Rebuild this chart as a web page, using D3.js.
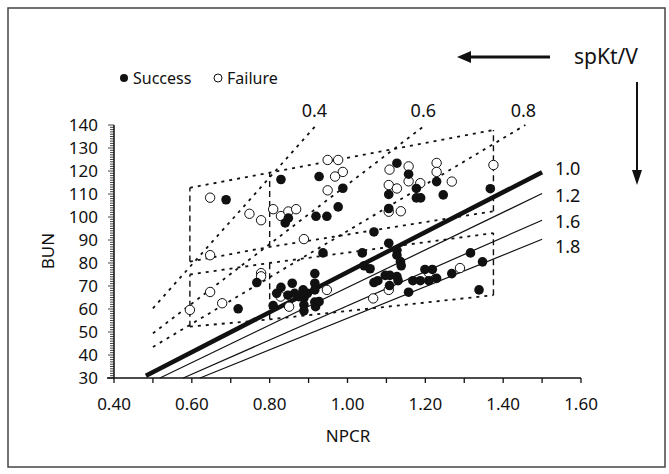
<!DOCTYPE html>
<html>
<head>
<meta charset="utf-8">
<script src="https://cdn.jsdelivr.net/npm/d3@7"></script>
<style>
  body { margin: 0; background: #fff; }
  svg text { font-family: "Noto Sans", "DejaVu Sans", sans-serif; fill: #111; }
</style>
</head>
<body>
<svg id="chart" width="669" height="474"></svg>
<script>
// --- data ---
const xTickValues = [0.4, 0.6, 0.8, 1.0, 1.2, 1.4, 1.6];
const yTickValues = [30, 40, 50, 60, 70, 80, 90, 100, 110, 120, 130, 140];

const successPts = [
  [0.688,107.5],[0.829,116.3],[0.927,117.6],[0.840,97.4],[0.848,99.5],[0.919,100.3],[0.947,100.3],
  [0.976,104.4],[0.988,112.5],[1.068,93.5],[1.106,109.8],[1.106,103.7],[1.127,123.4],[1.157,118.6],
  [1.177,112.4],[1.177,108.3],[1.188,108.3],[1.229,115.4],[1.246,109.6],[1.367,112.3],
  [0.719,60.1],[0.767,71.5],[0.809,61.5],[0.818,66.8],[0.829,69.4],[0.847,66.0],[0.858,71.2],
  [0.864,66.8],[0.875,65.4],[0.886,68.3],[0.888,64.8],[0.888,61.8],[0.888,59.2],[0.897,66.8],
  [0.916,75.4],[0.916,71.2],[0.916,68.3],[0.916,63.0],[0.918,61.0],[0.927,63.2],[0.937,84.4],
  [1.038,84.4],[1.043,78.8],[1.058,77.5],[1.068,71.5],[1.078,72.3],[1.097,74.6],[1.106,88.6],
  [1.108,70.2],[1.109,74.6],[1.127,85.5],[1.127,83.4],[1.127,74.1],[1.130,72.3],[1.136,80.6],
  [1.138,78.8],[1.157,67.3],[1.168,72.3],[1.187,72.3],[1.199,77.2],[1.209,72.3],[1.218,77.2],
  [1.229,73.3],[1.268,75.4],[1.316,84.4],[1.338,68.3],[1.347,80.5]
];
const failurePts = [
  [0.647,108.4],[0.748,101.4],[0.778,98.6],[0.809,103.4],[0.829,100.4],[0.848,102.4],[0.868,103.4],
  [0.888,90.4],[0.949,124.8],[0.976,124.8],[0.988,119.6],[0.968,117.6],[0.949,111.6],[1.108,120.6],
  [1.106,113.9],[1.106,102.3],[1.127,112.4],[1.137,102.5],[1.157,122.0],[1.157,115.5],[1.187,114.7],
  [1.229,123.5],[1.229,119.6],[1.268,115.4],[1.375,122.6],
  [0.595,59.6],[0.647,83.4],[0.647,67.4],[0.678,62.5],[0.778,75.6],[0.778,74.2],[0.828,65.4],
  [0.850,61.0],[0.947,68.3],[1.066,64.6],[1.106,68.3],[1.209,75.8],[1.289,77.8]
];

// solid spKt/V lines (NPCR, BUN) start and end
const ktvLabels = ["1.0", "1.2", "1.6", "1.8"];
const ktvStart = [[0.482, 31], [0.518, 30], [0.578, 30], [0.621, 30]];
const ktvEnd = [[1.50, 119.5], [1.50, 110.2], [1.50, 98.6], [1.50, 90.3]];

// dotted spKt/V guides
const guideLabels = ["0.4", "0.6", "0.8"];
const guideLines = [
  [[0.50, 60.3], [0.92, 140]],
  [[0.50, 49.4], [1.20, 140]],
  [[0.50, 43.5], [1.457, 140]]
];
// dotted box edges (through NPCR 0.595, 0.80, 1.375)
const boxEdges = [
  [[0.595, 112.7], [0.80, 119.3], [1.375, 137.8]],
  [[0.595, 80.6], [0.80, 87.0], [1.375, 102.5]],
  [[0.595, 75.0], [0.80, 80.0], [1.375, 93.0]],
  [[0.595, 52.3], [0.80, 55.5], [1.375, 66.0]]
];
// dashed box sides
const boxSides = [
  [0.595, 80.6, 112.7], [0.80, 87.0, 119.3], [1.375, 102.5, 137.8],
  [0.595, 52.3, 75.0], [0.80, 55.5, 80.0], [1.375, 66.0, 93.0]
];

document.addEventListener("DOMContentLoaded", () => {
    const svg = d3.select("#chart");

    // frame
    svg.append("rect")
        .attr("x", 8).attr("y", 8)
        .attr("width", 657).attr("height", 459)
        .attr("fill", "none")
        .attr("stroke", "#444")
        .attr("stroke-width", 1.5);

    const xScale = d3.scaleLinear().domain([0.4, 1.6]).range([114, 581]);
    const yScale = d3.scaleLinear().domain([30, 140]).range([378, 125]);
    const line = d3.line().x(d => xScale(d[0])).y(d => yScale(d[1]));

    // dotted guides and box edges
    guideLines.concat(boxEdges).forEach(pts => {
        svg.append("path")
            .attr("d", line(pts))
            .attr("fill", "none")
            .attr("stroke", "#111")
            .attr("stroke-width", 1.8)
            .attr("stroke-dasharray", "3,5");
    });
    boxSides.forEach(s => {
        svg.append("line")
            .attr("x1", xScale(s[0])).attr("x2", xScale(s[0]))
            .attr("y1", yScale(s[1])).attr("y2", yScale(s[2]))
            .attr("stroke", "#111")
            .attr("stroke-width", 1.4)
            .attr("stroke-dasharray", "6,4");
    });

    // guide labels at the top
    guideLabels.forEach((lab, i) => {
        const end = guideLines[i][1];
        svg.append("text")
            .attr("x", xScale(end[0]) - 2)
            .attr("y", 117)
            .attr("text-anchor", "middle")
            .attr("font-size", "18px")
            .text(lab);
    });

    // solid spKt/V lines
    ktvLabels.forEach((lab, i) => {
        svg.append("line")
            .attr("x1", xScale(ktvStart[i][0])).attr("y1", yScale(ktvStart[i][1]))
            .attr("x2", xScale(ktvEnd[i][0])).attr("y2", yScale(ktvEnd[i][1]))
            .attr("stroke", "#111")
            .attr("stroke-width", i === 0 ? 4.5 : 1.2);
    });
    const ktvLabelY = [175, 202, 228, 253];
    ktvLabels.forEach((lab, i) => {
        svg.append("text")
            .attr("x", 555)
            .attr("y", ktvLabelY[i])
            .attr("font-size", "18px")
            .text(lab);
    });

    // axes
    const xAxis = svg.append("g").attr("transform", "translate(0,378)");
    xAxis.append("line").attr("x1", 107).attr("x2", 581).attr("stroke", "#111").attr("stroke-width", 1.5);
    d3.range(0.4, 1.65, 0.1).forEach(v => {
        xAxis.append("line")
            .attr("x1", xScale(v)).attr("x2", xScale(v))
            .attr("y1", 0).attr("y2", 5)
            .attr("stroke", "#111").attr("stroke-width", 1.3);
    });
    xTickValues.forEach(v => {
        xAxis.append("text")
            .attr("x", xScale(v))
            .attr("y", 32)
            .attr("text-anchor", "middle")
            .attr("font-size", "17px")
            .text(v.toFixed(2));
    });

    const yAxis = svg.append("g").attr("transform", "translate(114,0)");
    yAxis.append("line").attr("y1", 125).attr("y2", 378).attr("stroke", "#111").attr("stroke-width", 1.5);
    d3.range(30, 141, 1).forEach(v => {
        yAxis.append("line")
            .attr("x1", v % 10 === 0 ? -6 : -4).attr("x2", 0)
            .attr("y1", yScale(v)).attr("y2", yScale(v))
            .attr("stroke", "#111").attr("stroke-width", 0.8);
    });
    yTickValues.forEach(v => {
        yAxis.append("text")
            .attr("x", -16)
            .attr("y", yScale(v) + 6)
            .attr("text-anchor", "end")
            .attr("font-size", "17px")
            .text(v);
    });

    // axis titles
    svg.append("text")
        .attr("x", 348).attr("y", 442)
        .attr("text-anchor", "middle")
        .attr("font-size", "17px")
        .text("NPCR");
    svg.append("text")
        .attr("transform", "translate(54,251) rotate(-90)")
        .attr("text-anchor", "middle")
        .attr("font-size", "17px")
        .text("BUN");

    // points
    svg.append("g").selectAll("circle")
        .data(failurePts)
        .join("circle")
        .attr("cx", d => xScale(d[0]))
        .attr("cy", d => yScale(d[1]))
        .attr("r", 4.7)
        .attr("fill", "#fff")
        .attr("stroke", "#111")
        .attr("stroke-width", 1);
    svg.append("g").selectAll("circle")
        .data(successPts)
        .join("circle")
        .attr("cx", d => xScale(d[0]))
        .attr("cy", d => yScale(d[1]))
        .attr("r", 4.8)
        .attr("fill", "#111");

    // legend
    svg.append("circle").attr("cx", 124).attr("cy", 78).attr("r", 4).attr("fill", "#111");
    svg.append("text").attr("x", 133).attr("y", 84).attr("font-size", "16px").text("Success");
    svg.append("circle").attr("cx", 218).attr("cy", 78).attr("r", 4)
        .attr("fill", "#fff").attr("stroke", "#111").attr("stroke-width", 1);
    svg.append("text").attr("x", 227).attr("y", 84).attr("font-size", "16px").text("Failure");

    // spKt/V arrows
    svg.append("text").attr("x", 574).attr("y", 64).attr("font-size", "21px").text("spKt/V");
    svg.append("line").attr("x1", 550).attr("x2", 468).attr("y1", 57).attr("y2", 57)
        .attr("stroke", "#111").attr("stroke-width", 3);
    svg.append("path").attr("d", "M457,57 L471,51 L471,63 Z").attr("fill", "#111");
    svg.append("line").attr("x1", 637).attr("x2", 637).attr("y1", 82).attr("y2", 172)
        .attr("stroke", "#111").attr("stroke-width", 2);
    svg.append("path").attr("d", "M637,185 L632,170 L642,170 Z").attr("fill", "#111");
});
</script>
</body>
</html>
